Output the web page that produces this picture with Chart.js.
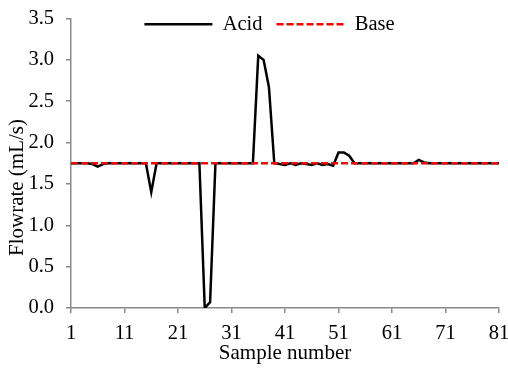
<!DOCTYPE html>
<html>
<head>
<meta charset="utf-8">
<script src="https://cdn.jsdelivr.net/npm/chart.js@4/dist/chart.umd.min.js"></script>
<style>
html,body{margin:0;padding:0;background:#fff;}
#wrap{width:508px;height:368px;}
</style>
</head>
<body>
<div id="wrap"><canvas id="c" width="508" height="368"></canvas></div>
<script>
const samples = [1,2,3,4,5,6,7,8,9,10,11,12,13,14,15,16,17,18,19,20,21,22,23,24,25,26,27,28,29,30,31,32,33,34,35,36,37,38,39,40,41,42,43,44,45,46,47,48,49,50,51,52,53,54,55,56,57,58,59,60,61,62,63,64,65,66,67,68,69,70,71,72,73,74,75,76,77,78,79,80,81];
const acid = [1.75,1.75,1.75,1.75,1.74,1.71,1.74,1.75,1.75,1.75,
              1.75,1.75,1.75,1.75,1.75,1.40,1.75,1.75,1.75,1.75,
              1.75,1.75,1.75,1.75,1.75,0.00,0.07,1.75,1.75,1.75,
              1.75,1.75,1.75,1.75,1.75,3.05,3.00,2.67,1.75,1.74,
              1.73,1.75,1.73,1.75,1.74,1.73,1.75,1.73,1.74,1.72,
              1.88,1.88,1.84,1.75,1.75,1.75,1.75,1.75,1.75,1.75,
              1.75,1.75,1.75,1.75,1.75,1.79,1.76,1.75,1.75,1.75,
              1.75,1.75,1.75,1.75,1.75,1.75,1.75,1.75,1.75,1.75,1.75];
const base = [1.75,1.75,1.75,1.75,1.75,1.75,1.75,1.75,1.75,1.75,
              1.75,1.75,1.75,1.75,1.75,1.75,1.75,1.75,1.75,1.75,
              1.75,1.75,1.75,1.75,1.75,1.75,1.75,1.75,1.75,1.75,
              1.75,1.75,1.75,1.75,1.75,1.75,1.75,1.75,1.75,1.75,
              1.75,1.75,1.75,1.75,1.75,1.75,1.75,1.75,1.75,1.75,
              1.75,1.75,1.75,1.75,1.75,1.75,1.75,1.75,1.75,1.75,
              1.75,1.75,1.75,1.75,1.75,1.75,1.75,1.75,1.75,1.75,
              1.75,1.75,1.75,1.75,1.75,1.75,1.75,1.75,1.75,1.75,1.75];
const xTickValues = [1,11,21,31,41,51,61,71,81];
const seriesNames = ['Acid','Base'];
const xTitle = 'Sample number';
const yTitle = 'Flowrate (mL/s)';

const FAMILY = '"Liberation Serif", "Times New Roman", serif';
const AXIS = '#898989';

const legendShift = {
  id: 'legendShift',
  afterLayout(chart) {
    const l = chart.legend;
    if (!l) return;
    l.top += 26; l.bottom += 26;
    l.left += 20; l.right += 20;
  }
};
const yTitlePlugin = {
  id: 'yTitleDraw',
  afterDraw(chart) {
    const c = chart.ctx;
    c.save();
    c.translate(17, 187.5);
    c.rotate(-Math.PI / 2);
    c.font = '21px ' + FAMILY;
    c.fillStyle = '#000';
    c.textAlign = 'center';
    c.textBaseline = 'middle';
    c.fillText(yTitle, 0, 0);
    c.restore();
  }
};
function noPad(s) { s.paddingTop = 0; s.paddingBottom = 0; s.paddingLeft = 0; s.paddingRight = 0; }

new Chart(document.getElementById('c'), {
  type: 'line',
  data: {
    datasets: [
      { label: seriesNames[0], data: acid.map((v, i) => ({x: samples[i], y: v})),
        borderColor: '#000000', backgroundColor: '#000000', borderWidth: 2.5,
        pointRadius: 0, fill: false, tension: 0, order: 1 },
      { label: seriesNames[1], data: base.map((v, i) => ({x: samples[i], y: v})),
        borderColor: '#ff0000', backgroundColor: '#ff0000', borderWidth: 2.5, borderDash: [7, 3],
        pointRadius: 0, fill: false, tension: 0, order: 0 }
    ]
  },
  options: {
    responsive: false,
    animation: false,
    devicePixelRatio: 1,
    layout: { autoPadding: false, padding: { left: 0, right: 9, top: -26, bottom: 0 } },
    plugins: {
      legend: {
        position: 'top',
        labels: {
          usePointStyle: true, pointStyle: 'line', pointStyleWidth: 68,
          padding: 14, color: '#000',
          font: { family: FAMILY, size: 20.5 },
          sort: (a, b) => a.datasetIndex - b.datasetIndex,
          generateLabels: (chart) => {
            const items = Chart.defaults.plugins.legend.labels.generateLabels(chart);
            items.forEach(it => {
              const ds = chart.data.datasets[it.datasetIndex];
              it.lineDash = ds.borderDash || [];
              it.lineWidth = ds.borderWidth;
              it.strokeStyle = ds.borderColor;
              it.fillStyle = ds.borderColor;
            });
            return items;
          }
        }
      },
      tooltip: { enabled: false }
    },
    scales: {
      x: {
        type: 'linear', min: 1, max: 81,
        afterBuildTicks: (axis) => { axis.ticks = xTickValues.map(v => ({value: v})); },
        afterFit: (s) => { s.height = 60; noPad(s); },
        grid: { display: true, drawOnChartArea: false, drawTicks: true, tickLength: 5, color: AXIS, lineWidth: 1.5 },
        border: { display: true, color: AXIS, width: 1.5 },
        ticks: { autoSkip: false, maxRotation: 0, padding: 8, color: '#000', font: { family: FAMILY, size: 20.5 } },
        title: { display: true, text: xTitle, color: '#000', font: { family: FAMILY, size: 21 }, padding: { top: 0, bottom: 2 } }
      },
      y: {
        type: 'linear', min: 0, max: 3.5,
        afterFit: (s) => { s.width = 71; noPad(s); },
        grid: { display: true, drawOnChartArea: false, drawTicks: true, tickLength: 5, color: AXIS, lineWidth: 1.5 },
        border: { display: true, color: AXIS, width: 1.5 },
        ticks: { stepSize: 0.5, padding: 12, color: '#000', font: { family: FAMILY, size: 20.5 },
                 callback: (v) => Number(v).toFixed(1) },
        title: { display: false }
      }
    }
  },
  plugins: [legendShift, yTitlePlugin]
});
</script>
</body>
</html>
